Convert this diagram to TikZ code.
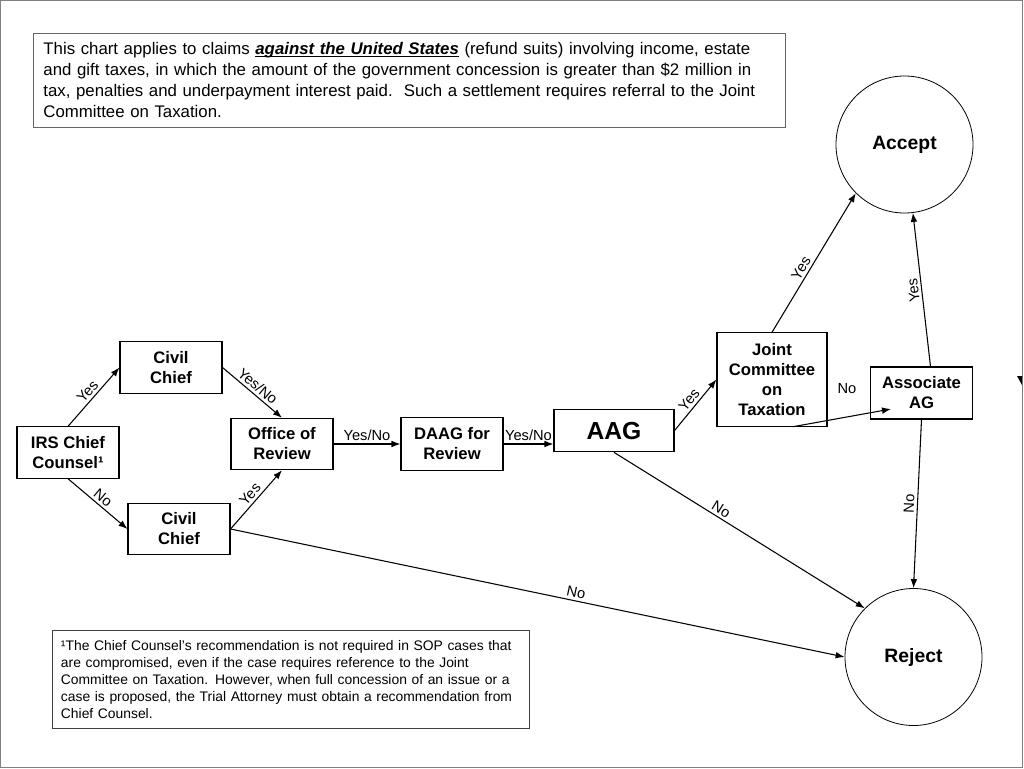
\documentclass[tikz,border=0pt]{standalone}
\usepackage{fontspec}
\setmainfont{Liberation Sans}
\usepackage{tikz}
\usetikzlibrary{arrows.meta}

\newcommand{\undertext}[1]{\setbox0\hbox{#1}\rlap{\rule[-1.6pt]{\wd0}{0.7pt}}\box0\relax}

\begin{document}
\begin{tikzpicture}[x=0.75pt, y=-0.75pt, >={Latex[length=6.75pt,width=5pt]}, line width=0.8pt,
    box/.style={draw, align=center, inner sep=0pt, minimum width=76.5pt, minimum height=38.5pt,
        font=\fontsize{12.5}{15}\selectfont\bfseries},
    circ/.style={draw, circle, line width=0.6pt, minimum size=102.75pt, inner sep=0pt,
        font=\fontsize{14.5}{17}\selectfont\bfseries},
    lbl/.style={above, sloped, inner sep=2pt, font=\fontsize{11}{12}\selectfont},
    note/.style={draw, anchor=north west, align=left, line width=0.7pt}]
            \useasboundingbox (0, 0) rectangle (1024, 768);
            \draw[gray, line width=0.6pt] (0.5, 0.5) rectangle (1022.5, 767.5);

            % text boxes
            \node[note, draw=black!60, minimum width=564pt, minimum height=70.5pt, inner xsep=7.5pt,
                text width=549pt, font=\fontsize{12.6}{15.75}\selectfont] (scope) at (33, 33)
                {This chart applies to claims \undertext{\textbf{\textit{against the United States}}} (refund suits) involving income, estate\\
                and gift taxes, in which the amount of the government concession is greater than \$2 million in\\
                tax, penalties and underpayment interest paid.\ \ Such a settlement requires referral to the Joint\\
                Committee on Taxation.};
            \node[note, draw=black!75, minimum width=357.75pt, minimum height=73.5pt, inner xsep=6pt,
                text width=345pt, font=\fontsize{10.4}{12.75}\selectfont] (footnote) at (52, 630)
                {¹The Chief Counsel's recommendation is not required in SOP cases that\\
                are compromised, even if the case requires reference to the Joint\\
                Committee on Taxation. However, when full concession of an issue or a\\
                case is proposed, the Trial Attorney must obtain a recommendation from\\
                Chief Counsel.};

            % offices
            \node[box] (irs) at (68, 452.5) {IRS Chief\\Counsel¹};
            \node[box] (civil1) at (171, 367.5) {Civil\\Chief};
            \node[box] (civil2) at (179, 529) {Civil\\Chief};
            \node[box] (office) at (282, 444) {Office of\\Review};
            \node[box, minimum height=39.5pt] (daag) at (452, 444) {DAAG for\\Review};
            \node[box, minimum width=90pt, minimum height=32pt, font=\fontsize{18.5}{20}\selectfont\bfseries] (aag) at (614, 430.5) {AAG};
            \node[box, minimum width=82.5pt, minimum height=70pt] (jct) at (772, 379.5) {Joint\\Committee\\on\\Taxation};
            \node[box, minimum width=77pt, minimum height=39pt] (assoc) at (921.5, 393) {Associate\\AG};
            \node[circ] (accept) at (904.5, 144.5) {Accept};
            \node[circ] (reject) at (913.5, 657) {Reject};
            \coordinate (associn) at (891, 409);

            % connectors
            \draw[->] (irs.north) -- node[lbl]{Yes} (civil1.west);
            \draw[->] (irs.south) -- node[lbl]{No} (civil2.west);
            \draw[->] (civil1.east) -- node[lbl]{Yes/No} (office.north);
            \draw[->] (civil2.east) -- node[lbl]{Yes} (office.south);
            \draw[->] (civil2.east) -- node[lbl, pos=.56]{No} (reject.west);
            \draw[->] (office.east) -- node[lbl]{Yes/No} (office.east -| daag.west);
            \draw[->] (daag.east) -- node[lbl]{Yes/No} (daag.east -| aag.west);
            \draw[->] (aag.east) -- node[lbl]{Yes} (jct.west);
            \draw[->] (aag.south) -- node[lbl, pos=.41]{No} (reject.135);
            \draw[->] (jct.north) -- node[lbl, pos=.43]{Yes} (accept.225);
            \draw[->] ([xshift=15.75pt]jct.south) -- node[pos=.55, above=14pt, font=\fontsize{11}{12}\selectfont]{No} (associn);
            \draw[->] ([xshift=6.75pt]assoc.north) -- node[lbl, allow upside down]{Yes} (accept.-83);
            \draw[->] (assoc.south) -- node[lbl]{No} (reject.north);

            \fill (1017, 376) -- (1022, 376) -- (1022, 385) -- cycle;
        \end{tikzpicture}
\end{document}
